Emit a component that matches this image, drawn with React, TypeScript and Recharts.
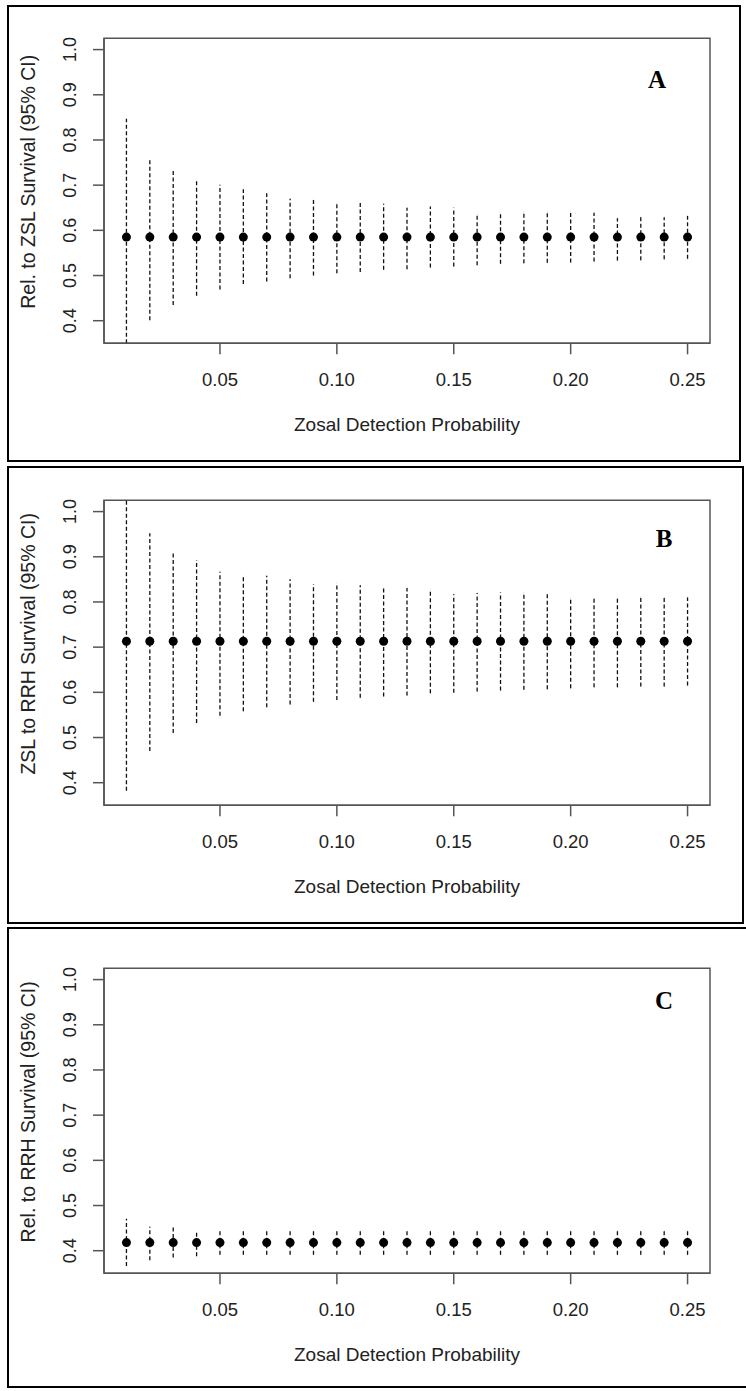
import React from "react";
import { ComposedChart, Scatter, ErrorBar, XAxis, YAxis, ReferenceArea } from "recharts";

const detectionProbs = [
  0.01, 0.02, 0.03, 0.04, 0.05, 0.06, 0.07, 0.08, 0.09, 0.1, 0.11, 0.12, 0.13,
  0.14, 0.15, 0.16, 0.17, 0.18, 0.19, 0.2, 0.21, 0.22, 0.23, 0.24, 0.25,
];
const xTicks = [0.05, 0.1, 0.15, 0.2, 0.25];
const yTicks = [0.4, 0.5, 0.6, 0.7, 0.8, 0.9, 1.0];

// A: Rel. to ZSL
const meanA = [
  0.585, 0.585, 0.585, 0.585, 0.585, 0.585, 0.585, 0.585, 0.585, 0.585, 0.585, 0.585, 0.585,
  0.585, 0.585, 0.585, 0.585, 0.585, 0.585, 0.585, 0.585, 0.585, 0.585, 0.585, 0.585,
];
const upperA = [
  0.847, 0.76, 0.734, 0.713, 0.701, 0.691, 0.682, 0.67, 0.67, 0.66, 0.661, 0.659, 0.65,
  0.653, 0.65, 0.636, 0.639, 0.641, 0.641, 0.641, 0.639, 0.627, 0.629, 0.629, 0.632,
];
const lowerA = [
  0.35, 0.401, 0.435, 0.455, 0.469, 0.481, 0.487, 0.494, 0.5, 0.505, 0.508, 0.513, 0.514,
  0.518, 0.52, 0.523, 0.526, 0.527, 0.528, 0.529, 0.531, 0.533, 0.534, 0.536, 0.537,
];

// B: ZSL to RRH
const meanB = [
  0.713, 0.713, 0.713, 0.713, 0.713, 0.713, 0.713, 0.713, 0.713, 0.713, 0.713, 0.713, 0.713,
  0.713, 0.713, 0.713, 0.713, 0.713, 0.713, 0.713, 0.713, 0.713, 0.713, 0.713, 0.713,
];
const upperB = [
  1.025, 0.952, 0.912, 0.893, 0.867, 0.858, 0.858, 0.85, 0.839, 0.841, 0.837, 0.83, 0.831,
  0.828, 0.817, 0.82, 0.821, 0.82, 0.817, 0.808, 0.808, 0.809, 0.811, 0.81, 0.81,
];
const lowerB = [
  0.382, 0.47, 0.51, 0.532, 0.548, 0.558, 0.567, 0.573, 0.579, 0.583, 0.588, 0.591, 0.593,
  0.598, 0.599, 0.602, 0.604, 0.606, 0.607, 0.609, 0.611, 0.611, 0.613, 0.613, 0.615,
];

// C: Rel. to RRH
const meanC = [
  0.418, 0.418, 0.418, 0.418, 0.418, 0.418, 0.418, 0.418, 0.418, 0.418, 0.418, 0.418, 0.418,
  0.418, 0.418, 0.418, 0.418, 0.418, 0.418, 0.418, 0.418, 0.418, 0.418, 0.418, 0.418,
];
const upperC = [
  0.471, 0.453, 0.452, 0.442, 0.444, 0.444, 0.444, 0.444, 0.444, 0.444, 0.444, 0.444, 0.444,
  0.444, 0.444, 0.444, 0.444, 0.444, 0.444, 0.444, 0.444, 0.444, 0.444, 0.444, 0.444,
];
const lowerC = [
  0.366, 0.379, 0.385, 0.388, 0.391, 0.391, 0.391, 0.391, 0.391, 0.391, 0.391, 0.391, 0.391,
  0.391, 0.391, 0.391, 0.391, 0.391, 0.391, 0.391, 0.391, 0.391, 0.391, 0.391, 0.391,
];

const X_DOMAIN: [number, number] = [0.0004, 0.2596];
const Y_DOMAIN: [number, number] = [0.35, 1.025];
const FONT = "'Liberation Sans', Arial, Helvetica, sans-serif";
const AXIS_GREY = "#555";

const XTick = ({ x, y, payload }: any) => (
  <text x={x} y={y} dy={32} textAnchor="middle" fontSize={18.5} fontFamily={FONT} fill="#222">
    {Number(payload.value).toFixed(2)}
  </text>
);

const YTick = ({ x, y, payload }: any) => (
  <text
    x={x}
    y={y}
    transform={`rotate(-90, ${x}, ${y})`}
    textAnchor="middle"
    fontSize={18}
    fontFamily={FONT}
    fill="#222"
  >
    {Number(payload.value).toFixed(1)}
  </text>
);

const XTitle = ({ viewBox, text }: any) => {
  if (!viewBox) return null;
  return (
    <text
      x={viewBox.x + viewBox.width / 2}
      y={viewBox.y + 88}
      textAnchor="middle"
      fontSize={19}
      fontFamily={FONT}
      fill="#222"
    >
      {text}
    </text>
  );
};

const YTitle = ({ viewBox, text }: any) => {
  if (!viewBox) return null;
  const x = viewBox.x + 35;
  const y = viewBox.y + viewBox.height / 2 - 9;
  return (
    <text
      x={x}
      y={y}
      transform={`rotate(-90, ${x}, ${y})`}
      textAnchor="middle"
      fontSize={19.5}
      fontFamily={FONT}
      fill="#222"
    >
      {text}
    </text>
  );
};

type PanelProps = {
  chartTop: number;
  frame: { top: number; height: number; width: number };
  mean: number[];
  lower: number[];
  upper: number[];
  yTitle: string;
  letter: string;
  letterX: number;
  letterY: number;
};

const Panel = ({ chartTop, frame, mean, lower, upper, yTitle, letter, letterX, letterY }: PanelProps) => {
  const rows = detectionProbs.map((p, i) => ({
    p,
    mean: mean[i],
    err: [mean[i] - lower[i], upper[i] - mean[i]],
  }));

  return (
    <>
      <div
        style={{
          position: "absolute",
          left: 7,
          top: frame.top,
          width: frame.width,
          height: frame.height,
          border: "2.5px solid #000",
          boxSizing: "border-box",
        }}
      />
      <div style={{ position: "absolute", left: 0, top: chartTop }}>
        <ComposedChart
          width={746}
          height={460}
          data={rows}
          margin={{ top: 38.3, right: 36, bottom: 0, left: 0 }}
        >
          <XAxis
            dataKey="p"
            type="number"
            domain={X_DOMAIN}
            allowDataOverflow
            ticks={xTicks}
            tick={<XTick />}
            tickSize={11}
            tickMargin={0}
            height={116.7}
            axisLine={{ stroke: AXIS_GREY, strokeWidth: 1.5 }}
            tickLine={{ stroke: AXIS_GREY, strokeWidth: 1.5 }}
            label={<XTitle text="Zosal Detection Probability" />}
          />
          <YAxis
            type="number"
            domain={Y_DOMAIN}
            allowDataOverflow
            ticks={yTicks}
            tick={<YTick />}
            tickSize={11}
            tickMargin={17}
            width={104}
            axisLine={{ stroke: AXIS_GREY, strokeWidth: 1.5 }}
            tickLine={{ stroke: AXIS_GREY, strokeWidth: 1.5 }}
            label={<YTitle text={yTitle} />}
          />
          <ReferenceArea
            x1={X_DOMAIN[0]}
            x2={X_DOMAIN[1]}
            y1={Y_DOMAIN[0]}
            y2={Y_DOMAIN[1]}
            fill="none"
            stroke={AXIS_GREY}
            strokeWidth={1.5}
            ifOverflow="visible"
          />
          <Scatter
            dataKey="mean"
            isAnimationActive={false}
            shape={(props: any) => <circle cx={props.cx} cy={props.cy} r={4.5} fill="#000" />}
          >
            <ErrorBar
              dataKey="err"
              direction="y"
              width={0}
              stroke="#111"
              strokeWidth={1.3}
              strokeDasharray="4 2.5"
              isAnimationActive={false}
            />
          </Scatter>
        </ComposedChart>
        <div
          style={{
            position: "absolute",
            left: letterX,
            top: letterY,
            fontFamily: "'Liberation Serif', 'Times New Roman', serif",
            fontWeight: "bold",
            fontSize: 25,
            lineHeight: 1,
            transform: "translate(-50%, -100%)",
            color: "#000",
          }}
        >
          {letter}
        </div>
      </div>
    </>
  );
};

export default function App() {
  return (
    <div
      style={{
        position: "absolute",
        left: 0,
        top: 0,
        width: 746,
        height: 1391,
        background: "#fff",
        overflow: "hidden",
      }}
    >
      <Panel
        chartTop={0}
        frame={{ top: 5, height: 457, width: 734 }}
        mean={meanA}
        lower={lowerA}
        upper={upperA}
        yTitle="Rel. to ZSL Survival (95% CI)"
        letter="A"
        letterX={657}
        letterY={92}
      />
      <Panel
        chartTop={461.5}
        frame={{ top: 465.5, height: 458, width: 737 }}
        mean={meanB}
        lower={lowerB}
        upper={upperB}
        yTitle="ZSL to RRH Survival (95% CI)"
        letter="B"
        letterX={664}
        letterY={89}
      />
      <Panel
        chartTop={929.5}
        frame={{ top: 927, height: 461, width: 745 }}
        mean={meanC}
        lower={lowerC}
        upper={upperC}
        yTitle="Rel. to RRH Survival (95% CI)"
        letter="C"
        letterX={664}
        letterY={83}
      />
    </div>
  );
}
